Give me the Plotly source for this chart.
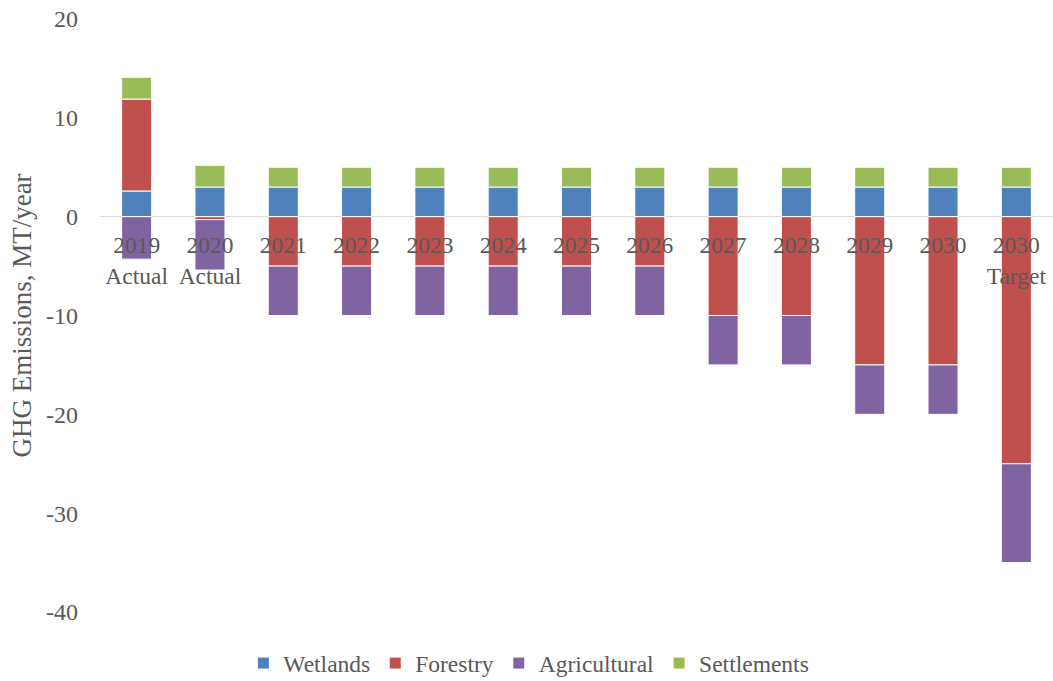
import plotly.graph_objects as go

categories = ["2019<br>Actual", "2020<br>Actual", "2021", "2022", "2023", "2024", "2025",
              "2026", "2027", "2028", "2029", "2030", "2030<br>Target"]
wetlands = [2.6, 3.0, 3, 3, 3, 3, 3, 3, 3, 3, 3, 3, 3]
forestry = [9.3, -0.3, -5, -5, -5, -5, -5, -5, -10, -10, -15, -15, -25]
agricultural = [-4.3, -5.1, -5, -5, -5, -5, -5, -5, -5, -5, -5, -5, -10]
settlements = [2.2, 2.2, 2, 2, 2, 2, 2, 2, 2, 2, 2, 2, 2]
y_ticks = [20, 10, 0, -10, -20, -30, -40]
y_tick_text = ["20", "10", "0", "-10", "-20", "-30", "-40"]

series = [
    ("Wetlands", wetlands, "#4F81BD"),
    ("Forestry", forestry, "#C0504D"),
    ("Agricultural", agricultural, "#8064A2"),
    ("Settlements", settlements, "#9BBB59"),
]

font_family = "Liberation Serif, Times New Roman, serif"
text_color = "#595959"

fig = go.Figure()
for name, vals, color in series:
    fig.add_trace(go.Bar(
        x=categories, y=vals, name=name,
        marker=dict(color=color, line=dict(color="white", width=1)),
    ))

fig.update_layout(
    width=1053, height=681,
    barmode="relative",
    bargap=0.59,
    plot_bgcolor="white", paper_bgcolor="white",
    margin=dict(l=100, r=0, t=19, b=69, autoexpand=False),
    font=dict(family=font_family, size=23.5, color=text_color),
    showlegend=True,
    legend=dict(orientation="h", x=0.45, xanchor="center",
                yref="container", y=0.026, yanchor="middle",
                font=dict(size=23.5, color=text_color), itemwidth=30,
                traceorder="normal"),
    xaxis=dict(
        anchor="free", position=40 / 60,
        showline=False, showgrid=False, ticks="",
        tickfont=dict(size=23.5, color=text_color),
        tickangle=0,
        ticklabelstandoff=12,
    ),
    yaxis=dict(
        range=[-40, 20], tickvals=y_ticks, ticktext=y_tick_text,
        showgrid=False, zeroline=True, zerolinecolor="#D9D9D9", zerolinewidth=1,
        showline=False, ticks="",
        ticklabelstandoff=21,
        tickfont=dict(size=24, color=text_color),
        title=dict(text="GHG Emissions, MT/year", font=dict(size=27, color=text_color),
                   standoff=6),
    ),
)

fig.write_html("out.html")
